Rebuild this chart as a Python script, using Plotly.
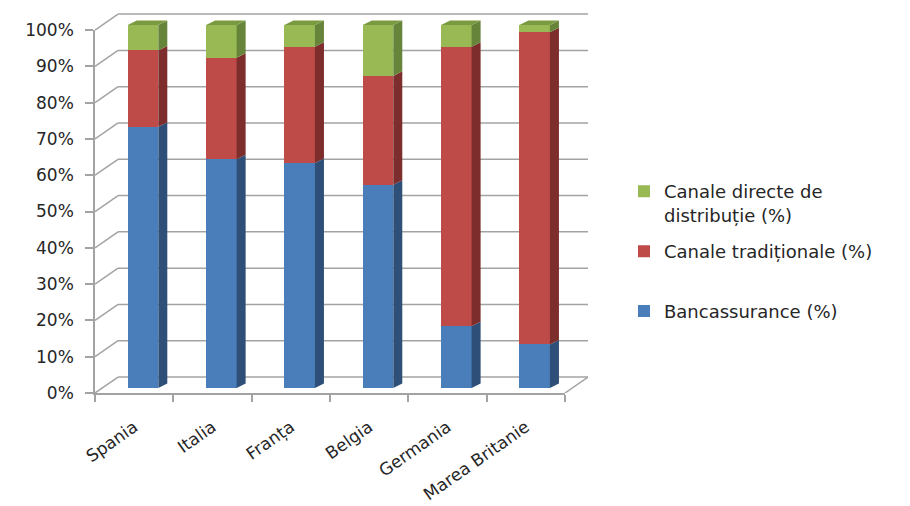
import plotly.graph_objects as go

# ---- data -------------------------------------------------------------
categories = ["Spania", "Italia", "Franța", "Belgia", "Germania", "Marea Britanie"]
bancassurance = [72, 63, 62, 56, 17, 12]
traditionale = [21, 28, 32, 30, 77, 86]
directe = [7, 9, 6, 14, 6, 2]
y_ticks = list(range(0, 101, 10))
y_tick_text = [f"{v}%" for v in y_ticks]

# legend entries; the second one keeps a blank second line so every entry
# takes the same two-line slot in the legend
series_names = ["Bancassurance (%)", "Canale tradiționale (%)<br> ", "Canale directe de<br>distribuție (%)"]
series_values = [bancassurance, traditionale, directe]
front_colors = ["#4a7ebb", "#be4b48", "#98b954"]
side_colors = ["#2e4f78", "#7c2d2c", "#67853a"]
top_color = "#7a9a40"

# ---- pseudo-3D geometry (axis units) ------------------------------------
n = len(categories)
BAR_W = 0.39              # front face width of a column
BAR_DX, BAR_DY = 0.115, 1.25   # depth of each column
WALL_DX, WALL_DY = 0.294, 4.4  # depth of the floor / side wall
FRONT_X0, FRONT_Y0 = -0.613, -1.38  # front-left corner of the floor
X_MAX = FRONT_X0 + n + WALL_DX
Y_TOP = 103.6
GRID = "#a3a3a3"
TEXT = "#262626"
FONT = "DejaVu Sans"

fig = go.Figure()

# front faces: stacked columns (legend lists the top series first)
x_pos = list(range(n))
for k, (name, vals, col) in enumerate(zip(series_names, series_values, front_colors)):
    fig.add_trace(go.Bar(
        x=x_pos, y=vals, name=name, width=BAR_W,
        marker=dict(color=col, line=dict(width=0)),
        legendgroup=f"g{k}", legendrank=len(series_names) - k,
    ))

# side faces and top faces, computed from the stacked values
base = [0] * n
for k, (vals, col) in enumerate(zip(series_values, side_colors)):
    xs, ys = [], []
    for i in range(n):
        b, t = base[i], base[i] + vals[i]
        xr = x_pos[i] + BAR_W / 2
        xs += [xr, xr + BAR_DX, xr + BAR_DX, xr, xr, None]
        ys += [b, b + BAR_DY, t + BAR_DY, t, b, None]
    fig.add_trace(go.Scatter(
        x=xs, y=ys, mode="lines", fill="toself", fillcolor=col,
        line=dict(width=0, color=col), showlegend=False, hoverinfo="skip",
    ))
    base = [base[i] + vals[i] for i in range(n)]

xs, ys = [], []
for i in range(n):
    xl, xr, t = x_pos[i] - BAR_W / 2, x_pos[i] + BAR_W / 2, base[i]
    xs += [xl, xr, xr + BAR_DX, xl + BAR_DX, xl, None]
    ys += [t, t, t + BAR_DY, t + BAR_DY, t, None]
fig.add_trace(go.Scatter(
    x=xs, y=ys, mode="lines", fill="toself", fillcolor=top_color,
    line=dict(width=0, color=top_color), showlegend=False, hoverinfo="skip",
))

# empty trace so the front-plane axes (x2/y2) get a subplot
fig.add_trace(go.Scatter(x=[None], y=[None], xaxis="x2", yaxis="y2",
                         mode="markers", showlegend=False, hoverinfo="skip"))

# walls: side-wall diagonals, back-wall gridlines, right floor edge
shapes = []
back_x0 = FRONT_X0 + WALL_DX
for v in y_ticks:
    fy = FRONT_Y0 + v
    shapes.append(dict(type="line", xref="x", yref="y", layer="below",
                       x0=FRONT_X0, y0=fy, x1=back_x0, y1=fy + WALL_DY,
                       line=dict(color=GRID, width=1.5)))
    shapes.append(dict(type="line", xref="x", yref="y", layer="below",
                       x0=back_x0, y0=fy + WALL_DY, x1=X_MAX, y1=fy + WALL_DY,
                       line=dict(color=GRID, width=1.5)))
shapes.append(dict(type="line", xref="x", yref="y", layer="below",
                   x0=FRONT_X0 + n, y0=FRONT_Y0, x1=X_MAX, y1=FRONT_Y0 + WALL_DY,
                   line=dict(color=GRID, width=1.5)))

boundaries = [FRONT_X0 + k for k in range(n + 1)]
centers = [FRONT_X0 + k + 0.5 for k in range(n)]

fig.update_layout(
    width=910, height=506,
    margin=dict(l=95, r=322, t=12, b=113, autoexpand=False),
    paper_bgcolor="white", plot_bgcolor="rgba(0,0,0,0)",
    barmode="stack", bargap=0,
    shapes=shapes,
    font=dict(family=FONT, color=TEXT, size=17),
    xaxis=dict(domain=[0, 1], range=[FRONT_X0, X_MAX], visible=False),
    yaxis=dict(domain=[0, 1], range=[FRONT_Y0, Y_TOP], visible=False),
    xaxis2=dict(
        domain=[0, n / (X_MAX - FRONT_X0)], range=[FRONT_X0, FRONT_X0 + n],
        anchor="y2", showline=True, linecolor=GRID, linewidth=1.5,
        showgrid=False, zeroline=False,
        tickmode="array", tickvals=centers, ticktext=categories,
        ticks="", tickangle=-35, ticklabelstandoff=16,
        tickfont=dict(family=FONT, size=17, color=TEXT),
        minor=dict(tickmode="array", tickvals=boundaries, ticks="outside",
                   ticklen=7, tickwidth=1.5, tickcolor=GRID, showgrid=False),
    ),
    yaxis2=dict(
        domain=[0, 100 / (Y_TOP - FRONT_Y0)], range=[0, 100],
        anchor="x2", showline=True, linecolor=GRID, linewidth=1.5,
        showgrid=False, zeroline=False,
        tickmode="array", tickvals=y_ticks, ticktext=y_tick_text,
        ticks="outside", ticklen=8, tickwidth=1.5, tickcolor=GRID,
        ticklabelstandoff=8,
        tickfont=dict(family=FONT, size=17, color=TEXT),
    ),
    legend=dict(
        x=1.073, y=0.577, xanchor="left", yanchor="top",
        traceorder="grouped", tracegroupgap=10, valign="top",
        font=dict(family=FONT, size=18, color=TEXT),
        bgcolor="rgba(0,0,0,0)",
    ),
    showlegend=True,
)

fig.write_html("out.html")
